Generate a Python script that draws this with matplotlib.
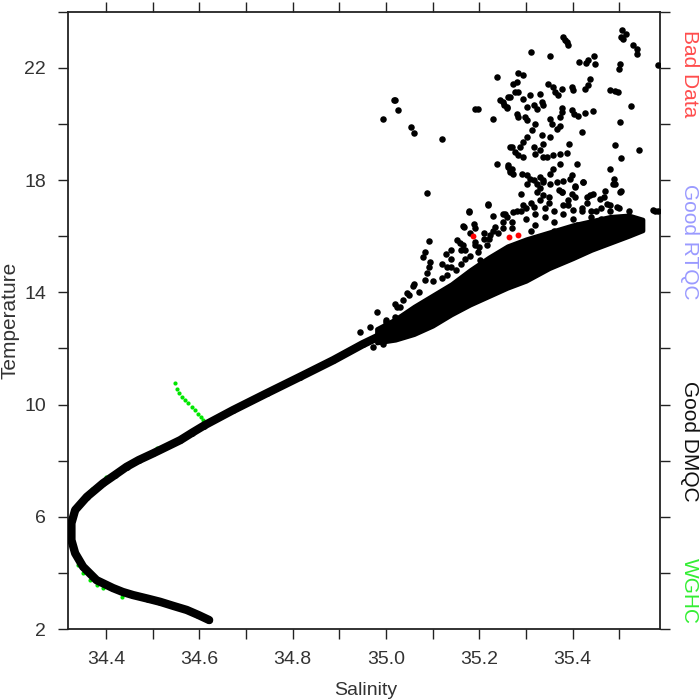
import matplotlib
matplotlib.use("Agg")
import matplotlib.pyplot as plt
from matplotlib.ticker import MultipleLocator

plt.rcParams['font.family'] = ['Liberation Sans', 'DejaVu Sans']

# main T-S backbone (Good DMQC, lower part of the profile)
curve_s = [34.621, 34.598, 34.573, 34.545, 34.516, 34.490, 34.458, 34.436, 34.415, 34.380,
           34.351, 34.334, 34.326, 34.326, 34.334, 34.359, 34.394, 34.420, 34.444, 34.470,
           34.501, 34.559, 34.585, 34.610, 34.672, 34.744, 34.816, 34.887, 34.950, 35.000]
curve_t = [2.32, 2.50, 2.68, 2.82, 2.97, 3.08, 3.21, 3.32, 3.46, 3.74,
           4.22, 4.70, 5.17, 5.77, 6.24, 6.71, 7.20, 7.50, 7.78, 8.02,
           8.26, 8.73, 9.00, 9.25, 9.80, 10.40, 10.99, 11.58, 12.15, 12.55]

# dense upper band (Good DMQC)
band_s = [34.98, 35.02, 35.06, 35.10, 35.14, 35.18, 35.22, 35.26, 35.30, 35.35,
          35.40, 35.44, 35.48, 35.52, 35.55]
band_lo = [12.2, 12.3, 12.5, 12.8, 13.2, 13.55, 13.85, 14.15, 14.4, 14.85,
           15.2, 15.5, 15.75, 16.0, 16.2]
band_hi = [12.7, 13.05, 13.5, 13.9, 14.3, 14.8, 15.25, 15.65, 15.9, 16.15,
           16.4, 16.55, 16.7, 16.75, 16.6]

# scattered Good DMQC points
dmqc_s = [35.237, 35.016, 35.019, 35.026, 34.994, 35.053, 35.060, 35.119, 35.191, 35.196,
          35.229, 35.244, 35.253, 35.259, 35.261, 35.237, 35.261, 35.266, 35.087, 35.266,
          35.379, 35.387, 35.390, 35.383, 35.505, 35.514, 35.503, 35.508, 35.530, 35.537,
          35.538, 35.310, 35.351, 35.414, 35.429, 35.433, 35.446, 35.448, 35.501, 35.500,
          35.583, 35.283, 35.293, 35.273, 35.280, 35.276, 35.266, 35.251, 35.259, 35.283,
          35.294, 35.309, 35.330, 35.334, 35.316, 35.301, 35.323, 35.337, 35.348, 35.358,
          35.362, 35.376, 35.369, 35.398, 35.401, 35.426, 35.433, 35.437, 35.480, 35.491,
          35.498, 35.525, 35.376, 35.376, 35.373, 35.398, 35.403, 35.412, 35.426, 35.444,
          35.280, 35.283, 35.298, 35.301, 35.319, 35.351, 35.355, 35.366, 35.373, 35.501,
          35.312, 35.301, 35.294, 35.287, 35.334, 35.351, 35.419, 35.269, 35.276, 35.283,
          35.294, 35.316, 35.319, 35.330, 35.337, 35.337, 35.344, 35.358, 35.373, 35.387,
          35.391, 35.491, 35.542, 35.503, 35.262, 35.266, 35.273, 35.269, 35.291, 35.301,
          35.309, 35.316, 35.323, 35.330, 35.337, 35.351, 35.358, 35.373, 35.409, 35.351,
          35.366, 35.380, 35.394, 35.398, 35.405, 35.421, 35.480, 35.489, 35.491, 35.503,
          35.444, 35.466, 35.376, 35.323, 35.337, 35.398, 35.405, 35.178, 35.219, 35.189,
          35.166, 35.576, 35.583, 35.219, 35.178, 35.230, 35.255, 35.164, 35.091, 35.084,
          35.080, 35.094, 35.091, 35.087, 35.084, 35.058, 35.044, 35.037, 35.030, 35.019,
          35.001, 35.129, 35.151, 35.159, 35.198, 35.201, 35.216, 35.223, 35.234, 35.301,
          35.337, 35.376, 35.405, 35.423, 35.437, 35.459, 35.487, 35.501, 35.473, 35.494,
          35.516, 35.530, 35.534, 35.573, 35.251, 35.273, 35.294, 35.316, 35.351, 35.373,
          35.416, 35.459, 34.944, 34.966, 34.973, 34.994, 35.001, 35.023, 35.30, 35.32,
          35.34, 35.36, 35.38, 35.40, 35.42, 35.44, 35.46, 35.48, 35.35, 35.39,
          35.43, 35.27, 35.25, 35.29, 35.33, 35.41, 35.45, 35.36, 35.31, 35.40,
          35.14, 35.17, 35.19, 35.21, 35.13, 35.24, 35.18, 35.16,
          35.12, 35.13, 35.14, 35.15, 35.16, 35.17, 35.18, 35.19, 35.20, 35.21,
          35.22, 35.23, 35.14, 35.165, 35.12, 35.19, 35.25, 35.27, 35.26, 35.28,
          35.30, 35.32, 35.34, 35.36, 35.38, 35.40, 35.42, 35.44, 35.46, 35.48,
          35.50, 35.52, 35.31, 35.35, 35.39, 35.43, 35.47, 35.29, 35.33, 35.37,
          35.06, 35.07, 35.10, 35.05, 35.02, 34.98]
dmqc_t = [21.67, 20.84, 20.84, 20.48, 20.19, 19.89, 19.68, 19.48, 20.54, 20.54,
          20.19, 20.84, 20.66, 20.58, 20.96, 18.56, 18.46, 18.29, 17.55, 19.18,
          23.09, 22.92, 22.83, 23.00, 23.36, 23.19, 23.09, 23.04, 22.83, 22.68,
          22.50, 22.56, 22.42, 22.20, 22.17, 22.29, 22.43, 22.15, 22.15, 21.97,
          22.09, 21.81, 21.73, 21.43, 21.49, 21.14, 20.96, 20.78, 20.60, 21.14,
          20.90, 21.02, 21.08, 20.78, 20.66, 20.60, 20.54, 20.66, 21.43, 21.31,
          21.14, 21.26, 21.02, 21.31, 21.20, 21.26, 21.37, 21.61, 21.22, 21.17,
          21.14, 20.63, 20.58, 20.42, 20.24, 20.48, 20.34, 20.30, 20.39, 20.46,
          20.37, 20.24, 20.24, 20.15, 20.01, 20.19, 20.01, 19.83, 19.91, 20.07,
          19.77, 19.53, 19.35, 19.18, 19.59, 19.53, 19.71, 19.18, 19.00, 18.88,
          18.82, 19.18, 18.94, 19.06, 19.30, 18.82, 18.82, 18.88, 18.92, 18.96,
          19.30, 19.24, 19.08, 18.80, 18.52, 18.35, 18.23, 18.41, 18.23, 18.17,
          18.05, 17.99, 17.87, 18.11, 17.99, 18.23, 18.41, 18.56, 18.56, 17.87,
          17.93, 17.97, 18.02, 18.17, 17.75, 17.93, 18.38, 18.05, 17.87, 17.61,
          17.52, 17.40, 17.57, 17.57, 17.46, 17.52, 17.40, 16.90, 17.14, 16.42,
          16.33, 16.90, 16.90, 17.10, 16.86, 16.71, 16.80, 16.35, 15.83, 15.44,
          15.24, 15.08, 14.90, 14.67, 14.43, 14.22, 13.96, 13.72, 13.48, 13.12,
          12.94, 15.36, 15.88, 15.74, 15.44, 15.14, 15.68, 16.03, 16.33, 17.87,
          17.93, 17.57, 17.80, 17.93, 17.46, 17.34, 17.87, 17.57, 17.16, 17.04,
          16.63, 16.57, 16.33, 16.92, 16.80, 16.86, 17.10, 17.04, 15.02, 15.14,
          15.50, 15.79, 12.59, 12.77, 12.05, 12.17, 13.00, 13.48, 16.6, 16.4,
          16.7, 16.5, 16.8, 16.6, 16.9, 16.7, 16.6, 16.9, 17.2, 17.1,
          17.2, 16.5, 16.3, 16.9, 17.3, 16.4, 16.9, 16.2, 16.2, 16.2,
          14.9, 15.2, 15.7, 15.9, 14.6, 16.1, 16.1, 15.5,
          14.5, 14.9, 15.2, 14.8, 15.0, 15.5, 15.3, 15.8, 15.6, 16.1,
          15.9, 16.2, 15.5, 15.7, 15.0, 16.3, 16.5, 16.3, 16.7, 16.9,
          17.0, 16.8, 17.0, 16.9, 17.1, 16.95, 17.0, 16.9, 17.0, 17.1,
          17.0, 16.9, 17.2, 17.4, 17.3, 17.4, 17.6, 17.5, 17.7, 17.65,
          14.3, 14.0, 14.4, 13.9, 13.6, 13.3]

# WGHC climatology profile
wghc_s = [34.548, 34.553, 34.557, 34.562, 34.569, 34.576, 34.584, 34.591, 34.598, 34.603,
          34.608, 34.509, 34.462, 34.455, 34.430, 34.400, 34.370, 34.348, 34.335, 34.325,
          34.325, 34.333, 34.341, 34.351, 34.366, 34.380, 34.394, 34.434]
wghc_t = [10.75, 10.57, 10.42, 10.27, 10.16, 10.06, 9.92, 9.80, 9.68, 9.56,
          9.44, 8.44, 8.04, 7.96, 7.72, 7.40, 7.00, 6.60, 6.24, 5.70,
          5.20, 4.70, 4.28, 3.98, 3.75, 3.57, 3.45, 3.15]

# bad data points
bad_s = [35.186, 35.264, 35.283]
bad_t = [16.00, 15.96, 16.03]

legend_labels = ['Bad Data', 'Good RTQC', 'Good DMQC', 'WGHC']
legend_colors = ['#ff4d4d', '#9a9aff', '#111111', '#33ee33']
legend_y = [0.895, 0.655, 0.37, 0.155]

fig = plt.figure(figsize=(7, 7), dpi=100)
ax = fig.add_axes([0.0967, 0.1014, 0.8462, 0.8819])

ax.scatter(wghc_s, wghc_t, s=9, color='#00e600', linewidths=0, zorder=2)
ax.plot(curve_s, curve_t, color='black', lw=6.0, solid_capstyle='round',
        solid_joinstyle='round', zorder=3)
ax.scatter(curve_s, curve_t, s=24, color='black', linewidths=0, zorder=3)
ax.fill_between(band_s, band_lo, band_hi, color='black', linewidth=3,
                edgecolor='black', zorder=3)
ax.scatter(dmqc_s, dmqc_t, s=22, color='black', linewidths=0, zorder=3)
ax.scatter(bad_s, bad_t, s=18, color='red', linewidths=0, zorder=4)

ax.set_xlim(34.318, 35.587)
ax.set_ylim(2, 24)
ax.xaxis.set_minor_locator(MultipleLocator(0.1))
ax.yaxis.set_minor_locator(MultipleLocator(2))
ax.set_xticks([34.4, 34.6, 34.8, 35.0, 35.2, 35.4])
ax.set_xticklabels(['34.4', '34.6', '34.8', '35.0', '35.2', '35.4'])
ax.set_yticks([2, 6, 10, 14, 18, 22])

ax.tick_params(which='both', direction='out', length=7.5, width=1.0, color='#222222',
               top=True, right=True, labelsize=14, labelcolor='#333333')
ax.tick_params(axis='x', which='both', pad=8)
ax.tick_params(axis='y', which='both', pad=8)
for sp in ax.spines.values():
    sp.set_linewidth(1.3)
    sp.set_color('#222222')

ax.set_xlabel('Salinity', fontsize=14, color='#333333', va='center')
ax.xaxis.set_label_coords(0.503, -0.099)
ax.set_ylabel('Temperature', fontsize=15, color='#333333', va='center')
ax.yaxis.set_label_coords(-0.097, 0.5)

for lab, col, yy in zip(legend_labels, legend_colors, legend_y):
    fig.text(0.985, yy, lab, rotation=-90, color=col, fontsize=15,
             ha='center', va='center')

fig.savefig('out.png', dpi=100)
